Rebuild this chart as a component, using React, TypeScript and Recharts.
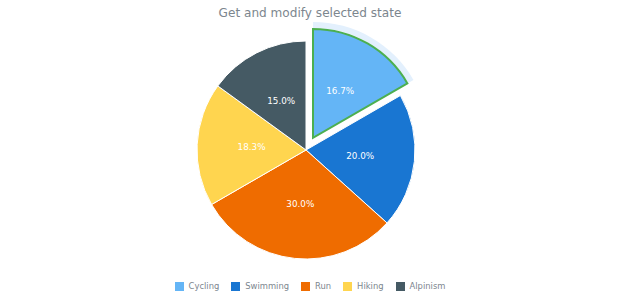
import * as React from 'react';
import { Cell, Legend, Pie, PieChart } from 'recharts';

const categories = ['Cycling', 'Swimming', 'Run', 'Hiking', 'Alpinism'];
const values = [10, 12, 18, 11, 9];
const colors = ['#64b5f6', '#1976d2', '#ef6c00', '#ffd54f', '#455a64'];
const selected = 0;

const data = categories.map((name, i) => ({ name, value: values[i] }));
const total = values.reduce((a, b) => a + b, 0);

const RADIAN = Math.PI / 180;
const CX = 306;
const CY = 150;
const R = 109;
const EXPLODE = 14;

// explode offset along the bisector of the selected slice
const startShare = values.slice(0, selected).reduce((a, b) => a + b, 0) / total;
const midShare = startShare + values[selected] / total / 2;
const midFromTop = midShare * 360 * RADIAN;
const EX = CX + EXPLODE * Math.sin(midFromTop);
const EY = CY - EXPLODE * Math.cos(midFromTop);

const font = '"DejaVu Sans", Verdana, sans-serif';

function makeLabel(show: (i: number) => boolean) {
  return (props: any) => {
    const { cx, cy, midAngle, outerRadius, index, value } = props;
    if (!show(index)) return null;
    const r = outerRadius * 0.5;
    const x = cx + r * Math.cos(-midAngle * RADIAN);
    const y = cy + r * Math.sin(-midAngle * RADIAN);
    return (
      <text x={x} y={y} fill="#ffffff" fontSize={8.8} fontFamily={font} textAnchor="middle" dominantBaseline="central">
        {((value / total) * 100).toFixed(1)}%
      </text>
    );
  };
}

function LegendContent() {
  return (
    <div style={{ display: 'flex', justifyContent: 'center', gap: 12, fontFamily: font, fontSize: 8.4, color: '#7c868e' }}>
      {categories.map((c, i) => (
        <div key={c} style={{ display: 'flex', alignItems: 'center' }}>
          <span style={{ display: 'inline-block', width: 9, height: 9, background: colors[i], marginRight: 5 }} />
          {c}
        </div>
      ))}
    </div>
  );
}

export default function App() {
  return (
    <div style={{ position: 'absolute', left: 0, top: 0, width: 620, height: 300, background: '#fff' }}>
      <div
        style={{
          position: 'absolute',
          top: 6,
          width: 620,
          textAlign: 'center',
          fontFamily: font,
          fontSize: 12.1,
          color: '#7c868e',
        }}
      >
        Get and modify selected state
      </div>
      <PieChart width={620} height={300} margin={{ top: 0, right: 0, bottom: 0, left: 0 }}>
        <Pie
          data={data}
          dataKey="value"
          nameKey="name"
          cx={CX}
          cy={CY}
          outerRadius={R}
          startAngle={90}
          endAngle={-270}
          stroke="#ffffff"
          strokeWidth={1}
          labelLine={false}
          label={makeLabel((i) => i !== selected)}
          isAnimationActive={false}
        >
          {data.map((d, i) => (
            <Cell key={d.name} fill={i === selected ? 'none' : colors[i]} stroke={i === selected ? 'none' : '#ffffff'} />
          ))}
        </Pie>
        <Pie
          data={data}
          dataKey="value"
          cx={EX}
          cy={EY}
          innerRadius={R + 1}
          outerRadius={R + 7}
          startAngle={90}
          endAngle={-270}
          stroke="none"
          isAnimationActive={false}
        >
          {data.map((d, i) => (
            <Cell key={d.name} fill={i === selected ? '#e3f0fd' : 'none'} />
          ))}
        </Pie>
        <Pie
          data={data}
          dataKey="value"
          cx={EX}
          cy={EY}
          outerRadius={R}
          startAngle={90}
          endAngle={-270}
          labelLine={false}
          label={makeLabel((i) => i === selected)}
          isAnimationActive={false}
        >
          {data.map((d, i) => (
            <Cell
              key={d.name}
              fill={i === selected ? colors[i] : 'none'}
              stroke={i === selected ? '#4caf50' : 'none'}
              strokeWidth={2}
            />
          ))}
        </Pie>
        <Legend verticalAlign="bottom" content={<LegendContent />} wrapperStyle={{ bottom: 9 }} />
      </PieChart>
    </div>
  );
}
